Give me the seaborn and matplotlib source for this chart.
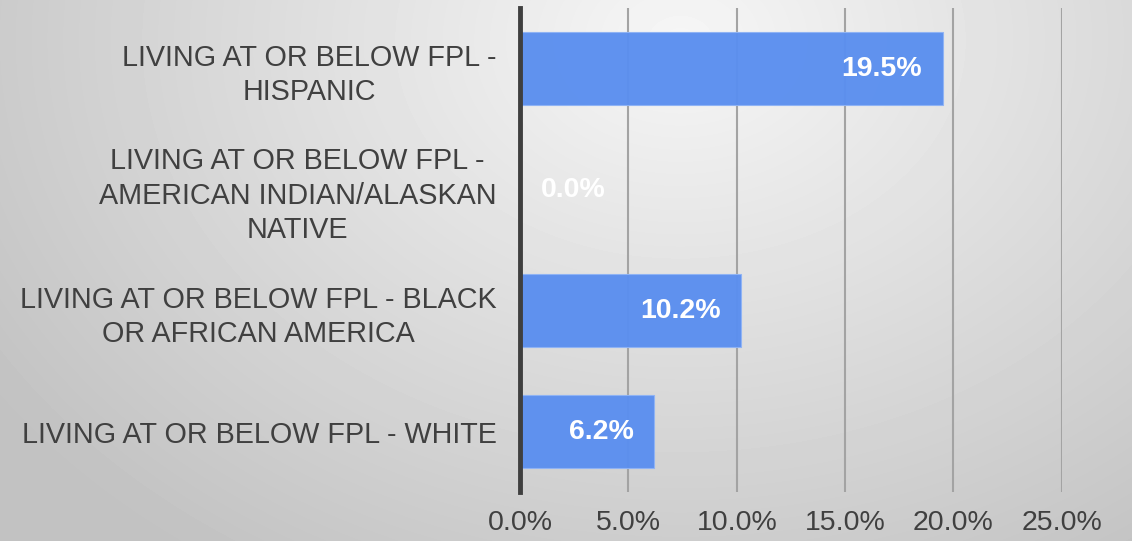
#!/usr/bin/env python3
# Horizontal bar chart: share living at or below FPL by group.

import numpy as np
import pandas as pd
import seaborn as sns
import matplotlib

matplotlib.use("Agg")
import matplotlib.pyplot as plt
from matplotlib.ticker import FuncFormatter

# Data
categories = [
    "LIVING AT OR BELOW FPL -\nHISPANIC",
    "LIVING AT OR BELOW FPL -\nAMERICAN INDIAN/ALASKAN\nNATIVE",
    "LIVING AT OR BELOW FPL - BLACK\nOR AFRICAN AMERICA",
    "LIVING AT OR BELOW FPL - WHITE",
]
values = [0.195, 0.0, 0.102, 0.062]
x_ticks = [0.0, 0.05, 0.10, 0.15, 0.20, 0.25]

df = pd.DataFrame({"category": categories, "value": values})

sns.set_style("white")
plt.rcParams["font.family"] = ["Liberation Sans", "DejaVu Sans"]

fig = plt.figure(figsize=(11.32, 5.41), dpi=100)

# gray radial gradient background
bg = fig.add_axes([0, 0, 1, 1], zorder=-10)
yy, xx = np.mgrid[0:541, 0:1132]
r = np.sqrt(((xx - 680) / 850.0) ** 2 + ((yy - 40) / 650.0) ** 2)
shade = np.clip(0.965 - 0.21 * r, 0.76, 0.965)
bg.imshow(shade, cmap="gray", vmin=0, vmax=1, aspect="auto",
          extent=[0, 1, 0, 1], origin="upper")
bg.set_axis_off()

ax = fig.add_axes([0.4594, 0.0906, 0.938 - 0.4594, 0.985 - 0.0906])
ax.patch.set_alpha(0)

sns.barplot(data=df, x="value", y="category", orient="h", color="#5B8FEF",
            width=0.6, saturation=1, alpha=0.97, edgecolor="#8fb3f5",
            linewidth=0.8, ax=ax, zorder=3)

ax.set_xlim(0, 0.25)
ax.set_xticks(x_ticks)
ax.xaxis.set_major_formatter(FuncFormatter(lambda v, p: "{:.1f}%".format(v * 100)))
ax.grid(axis="x", color="#a3a3a3", linewidth=1.5, zorder=1)
ax.set_axisbelow(True)
for s in ["top", "right", "bottom"]:
    ax.spines[s].set_visible(False)
ax.spines["left"].set_color("#3f3f3f")
ax.spines["left"].set_linewidth(3.5)
ax.spines["left"].set_zorder(5)

ax.tick_params(axis="x", length=0, pad=13, labelsize=20.5, labelcolor="#404040")
ax.tick_params(axis="y", length=0, pad=17, labelsize=20.7, labelcolor="#404040")
for lbl in ax.get_yticklabels():
    lbl.set_multialignment("center")
    lbl.set_linespacing(1.28)
ax.set_xlabel("")
ax.set_ylabel("")

for i, v in enumerate(values):
    txt = "{:.1f}%".format(v * 100)
    if v > 0.02:
        ax.text(v - 0.0095, i, txt, ha="right", va="center", color="white",
                fontsize=20.5, fontweight="bold", zorder=6)
    else:
        ax.text(0.0095, i, txt, ha="left", va="center", color="white",
                fontsize=20.5, fontweight="bold", zorder=6)

fig.savefig("out.png", dpi=100)
plt.close()
